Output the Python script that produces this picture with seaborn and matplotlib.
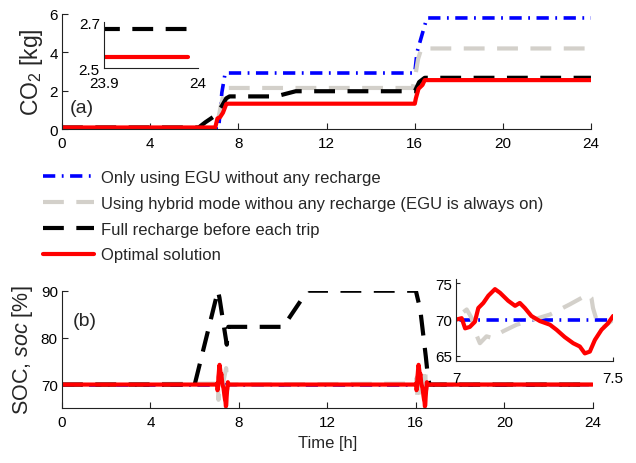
import numpy as np
import pandas as pd
import matplotlib
matplotlib.use('Agg')
import matplotlib.pyplot as plt
import seaborn as sns

sns.set_theme(style='ticks')
plt.rcParams['font.family'] = ['Liberation Sans', 'DejaVu Sans']
plt.rcParams['mathtext.fontset'] = 'custom'
plt.rcParams['mathtext.rm'] = 'Liberation Sans'
plt.rcParams['mathtext.it'] = 'Liberation Sans:italic'
plt.rcParams['font.size'] = 14
plt.rcParams['axes.linewidth'] = 0.8
plt.rcParams['axes.edgecolor'] = '#222222'

# ---- panel (a): cumulative CO2 [kg] ----
blue_t = [0, 7.1, 7.25, 7.4, 16.0, 16.1, 16.4, 16.55, 23.99]
blue_v = [0, 0, 1.9, 2.92, 2.92, 4.0, 5.2, 5.79, 5.79]
gray_t = [0, 7.0, 7.2, 7.4, 15.9, 16.0, 16.15, 16.3, 23.99]
gray_v = [0, 0, 1.2, 2.14, 2.14, 2.6, 3.65, 4.2, 4.2]
black_t = [0, 6.2, 6.5, 6.95, 7.25, 7.45, 7.6, 9.7, 10.6, 16.0, 16.2, 16.45, 23.99]
black_v = [0.08, 0.08, 0.35, 0.7, 1.2, 1.6, 1.7, 1.7, 1.97, 1.97, 2.45, 2.67, 2.67]
red_t = [0, 6.95, 7.05, 7.17, 7.3, 7.45, 7.5, 16.0, 16.05, 16.17, 16.35, 16.45, 23.99]
red_v = [0.08, 0.08, 0.55, 0.62, 0.85, 1.3, 1.32, 1.32, 1.6, 2.1, 2.3, 2.55, 2.55]

# ---- panel (b): SOC [%] ----
trip_starts = [7.0, 16.0]
trip_dt = [0.000, 0.018, 0.029, 0.044, 0.060, 0.071, 0.087, 0.103, 0.124, 0.140,
           0.166, 0.188, 0.203, 0.219, 0.240, 0.267, 0.299, 0.320, 0.346, 0.373,
           0.394, 0.410, 0.426, 0.442, 0.463, 0.484, 0.500, 0.520]
trip_red = [70.0, 70.2, 68.8, 69.0, 69.7, 71.6, 72.3, 73.3, 74.2, 73.7,
            72.6, 71.9, 72.3, 71.6, 70.5, 69.8, 69.3, 68.6, 67.6, 66.75,
            66.3, 65.35, 65.6, 67.2, 68.6, 69.5, 70.5, 70.0]
trip_gray_dt = [0.000, 0.034, 0.050, 0.060, 0.076, 0.097, 0.113, 0.150, 0.193,
                0.246, 0.299, 0.362, 0.421, 0.431, 0.436, 0.447, 0.468, 0.500]
trip_gray = [70.2, 71.4, 70.2, 68.4, 66.75, 67.7, 67.5, 68.4, 69.3,
             70.0, 70.7, 72.1, 73.5, 73.0, 71.6, 70.0, 68.9, 70.0]
soc_blue_t = [0, 23.99]
soc_blue_v = [70, 70]
soc_black_t = [0, 6.0, 7.05, 7.12, 7.3, 7.45, 7.52, 10.0, 11.1, 16.0, 16.05, 16.2,
               16.35, 16.45, 16.55, 16.62, 23.99]
soc_black_v = [70, 70, 90, 88.5, 83, 78.5, 82.3, 82.3, 90, 90, 89, 86,
               80, 76, 71.5, 70, 70]

labels = ['Only using EGU without any recharge',
          'Using hybrid mode withou any recharge (EGU is always on)',
          'Full recharge before each trip',
          'Optimal solution']


def soc_series(dt, vals):
    t = [0.0]
    v = [70.0]
    for t0 in trip_starts:
        t += [t0 + d for d in dt]
        v += list(vals)
    t.append(23.99)
    v.append(70.0)
    return pd.DataFrame({'t': t, 'v': v})


co2 = {
    'blue': pd.DataFrame({'t': blue_t, 'v': blue_v}),
    'gray': pd.DataFrame({'t': gray_t, 'v': gray_v}),
    'black': pd.DataFrame({'t': black_t, 'v': black_v}),
    'red': pd.DataFrame({'t': red_t, 'v': red_v}),
}
soc = {
    'blue': pd.DataFrame({'t': soc_blue_t, 'v': soc_blue_v}),
    'gray': soc_series(trip_gray_dt, trip_gray),
    'black': pd.DataFrame({'t': soc_black_t, 'v': soc_black_v}),
    'red': soc_series(trip_dt, trip_red),
}

styles = {
    'blue': dict(color='#0000FF', lw=2.6, linestyle=(0, (3.4, 1.8, 0.5, 1.8))),
    'gray': dict(color='#D3D0CA', lw=3.0, linestyle=(0, (5.0, 3.0))),
    'black': dict(color='black', lw=3.0, linestyle=(0, (5.0, 3.0))),
    'red': dict(color='#FF0000', lw=3.0, linestyle='-'),
}
order = ['blue', 'gray', 'black', 'red']


def draw(ax, data, with_labels=False):
    for i, key in enumerate(order):
        kw = dict(styles[key])
        if with_labels:
            kw['label'] = labels[i]
        sns.lineplot(data=data[key], x='t', y='v', ax=ax, estimator=None,
                     sort=False, legend=False, **kw)
    ax.set_xlabel('')
    ax.set_ylabel('')


def style_axes(ax, xpad=5.0):
    sns.despine(ax=ax)
    ax.tick_params(direction='in', length=4, width=0.8, colors='#222222',
                   labelcolor='black')
    ax.tick_params(axis='x', pad=xpad)
    ax.tick_params(axis='y', pad=3)
    ax.set_facecolor('none')


fig = plt.figure(figsize=(6.36, 4.64), dpi=100)

# panel (a)
ax_a = fig.add_axes([0.0975, 0.7198, 0.832, 0.248])
draw(ax_a, co2, with_labels=True)
ax_a.set_xlim(0, 24)
ax_a.set_ylim(0, 6)
ax_a.set_xticks(np.arange(0, 25, 4))
ax_a.set_yticks([0, 2, 4, 6])
ax_a.set_ylabel(r'CO$_2$ [kg]', labelpad=3, fontsize=16.5)
ax_a.text(0.015, 0.19, '(a)', transform=ax_a.transAxes, va='center', ha='left')
style_axes(ax_a)

ins_a = fig.add_axes([0.1635, 0.851, 0.1475, 0.099])
draw(ins_a, co2)
ins_a.set_xlim(23.9, 24)
ins_a.set_ylim(2.5, 2.7)
ins_a.set_xticks([23.9, 24])
ins_a.set_xticklabels(['23.9', '24'])
ins_a.set_yticks([2.5, 2.7])
ins_a.set_yticklabels(['2.5', '2.7'])
style_axes(ins_a)
ins_a.tick_params(length=0)
ins_a.tick_params(axis='x', pad=6)

# legend
handles, _ = ax_a.get_legend_handles_labels()
fig.legend(handles, labels, loc='center left', bbox_to_anchor=(0.0676, 0.532),
           frameon=False, fontsize=12.0, handlelength=3.05, handletextpad=0.45,
           labelspacing=0.65, borderpad=0, borderaxespad=0)

# panel (b)
ax_b = fig.add_axes([0.0975, 0.1185, 0.8345, 0.2528])
draw(ax_b, soc)
ax_b.set_xlim(0, 24)
ax_b.set_ylim(65, 90)
ax_b.set_xticks(np.arange(0, 25, 4))
ax_b.set_yticks([70, 80, 90])
ax_b.set_xlabel('Time [h]', labelpad=4)
ax_b.set_ylabel(r'SOC, $soc$ [%]', labelpad=4, fontsize=15.5)
ax_b.text(0.02, 0.744, '(b)', transform=ax_b.transAxes, va='center', ha='left')
style_axes(ax_b)

ins_b = fig.add_axes([0.717, 0.2198, 0.247, 0.1768])
draw(ins_b, soc)
ins_b.set_xlim(7, 7.5)
ins_b.set_ylim(64.3, 75.6)
ins_b.set_xticks([7, 7.5])
ins_b.set_xticklabels(['7', '7.5'])
ins_b.set_yticks([65, 70, 75])
style_axes(ins_b, xpad=7)
ins_b.tick_params(length=3)

fig.savefig('out.png', dpi=100, facecolor='white')
